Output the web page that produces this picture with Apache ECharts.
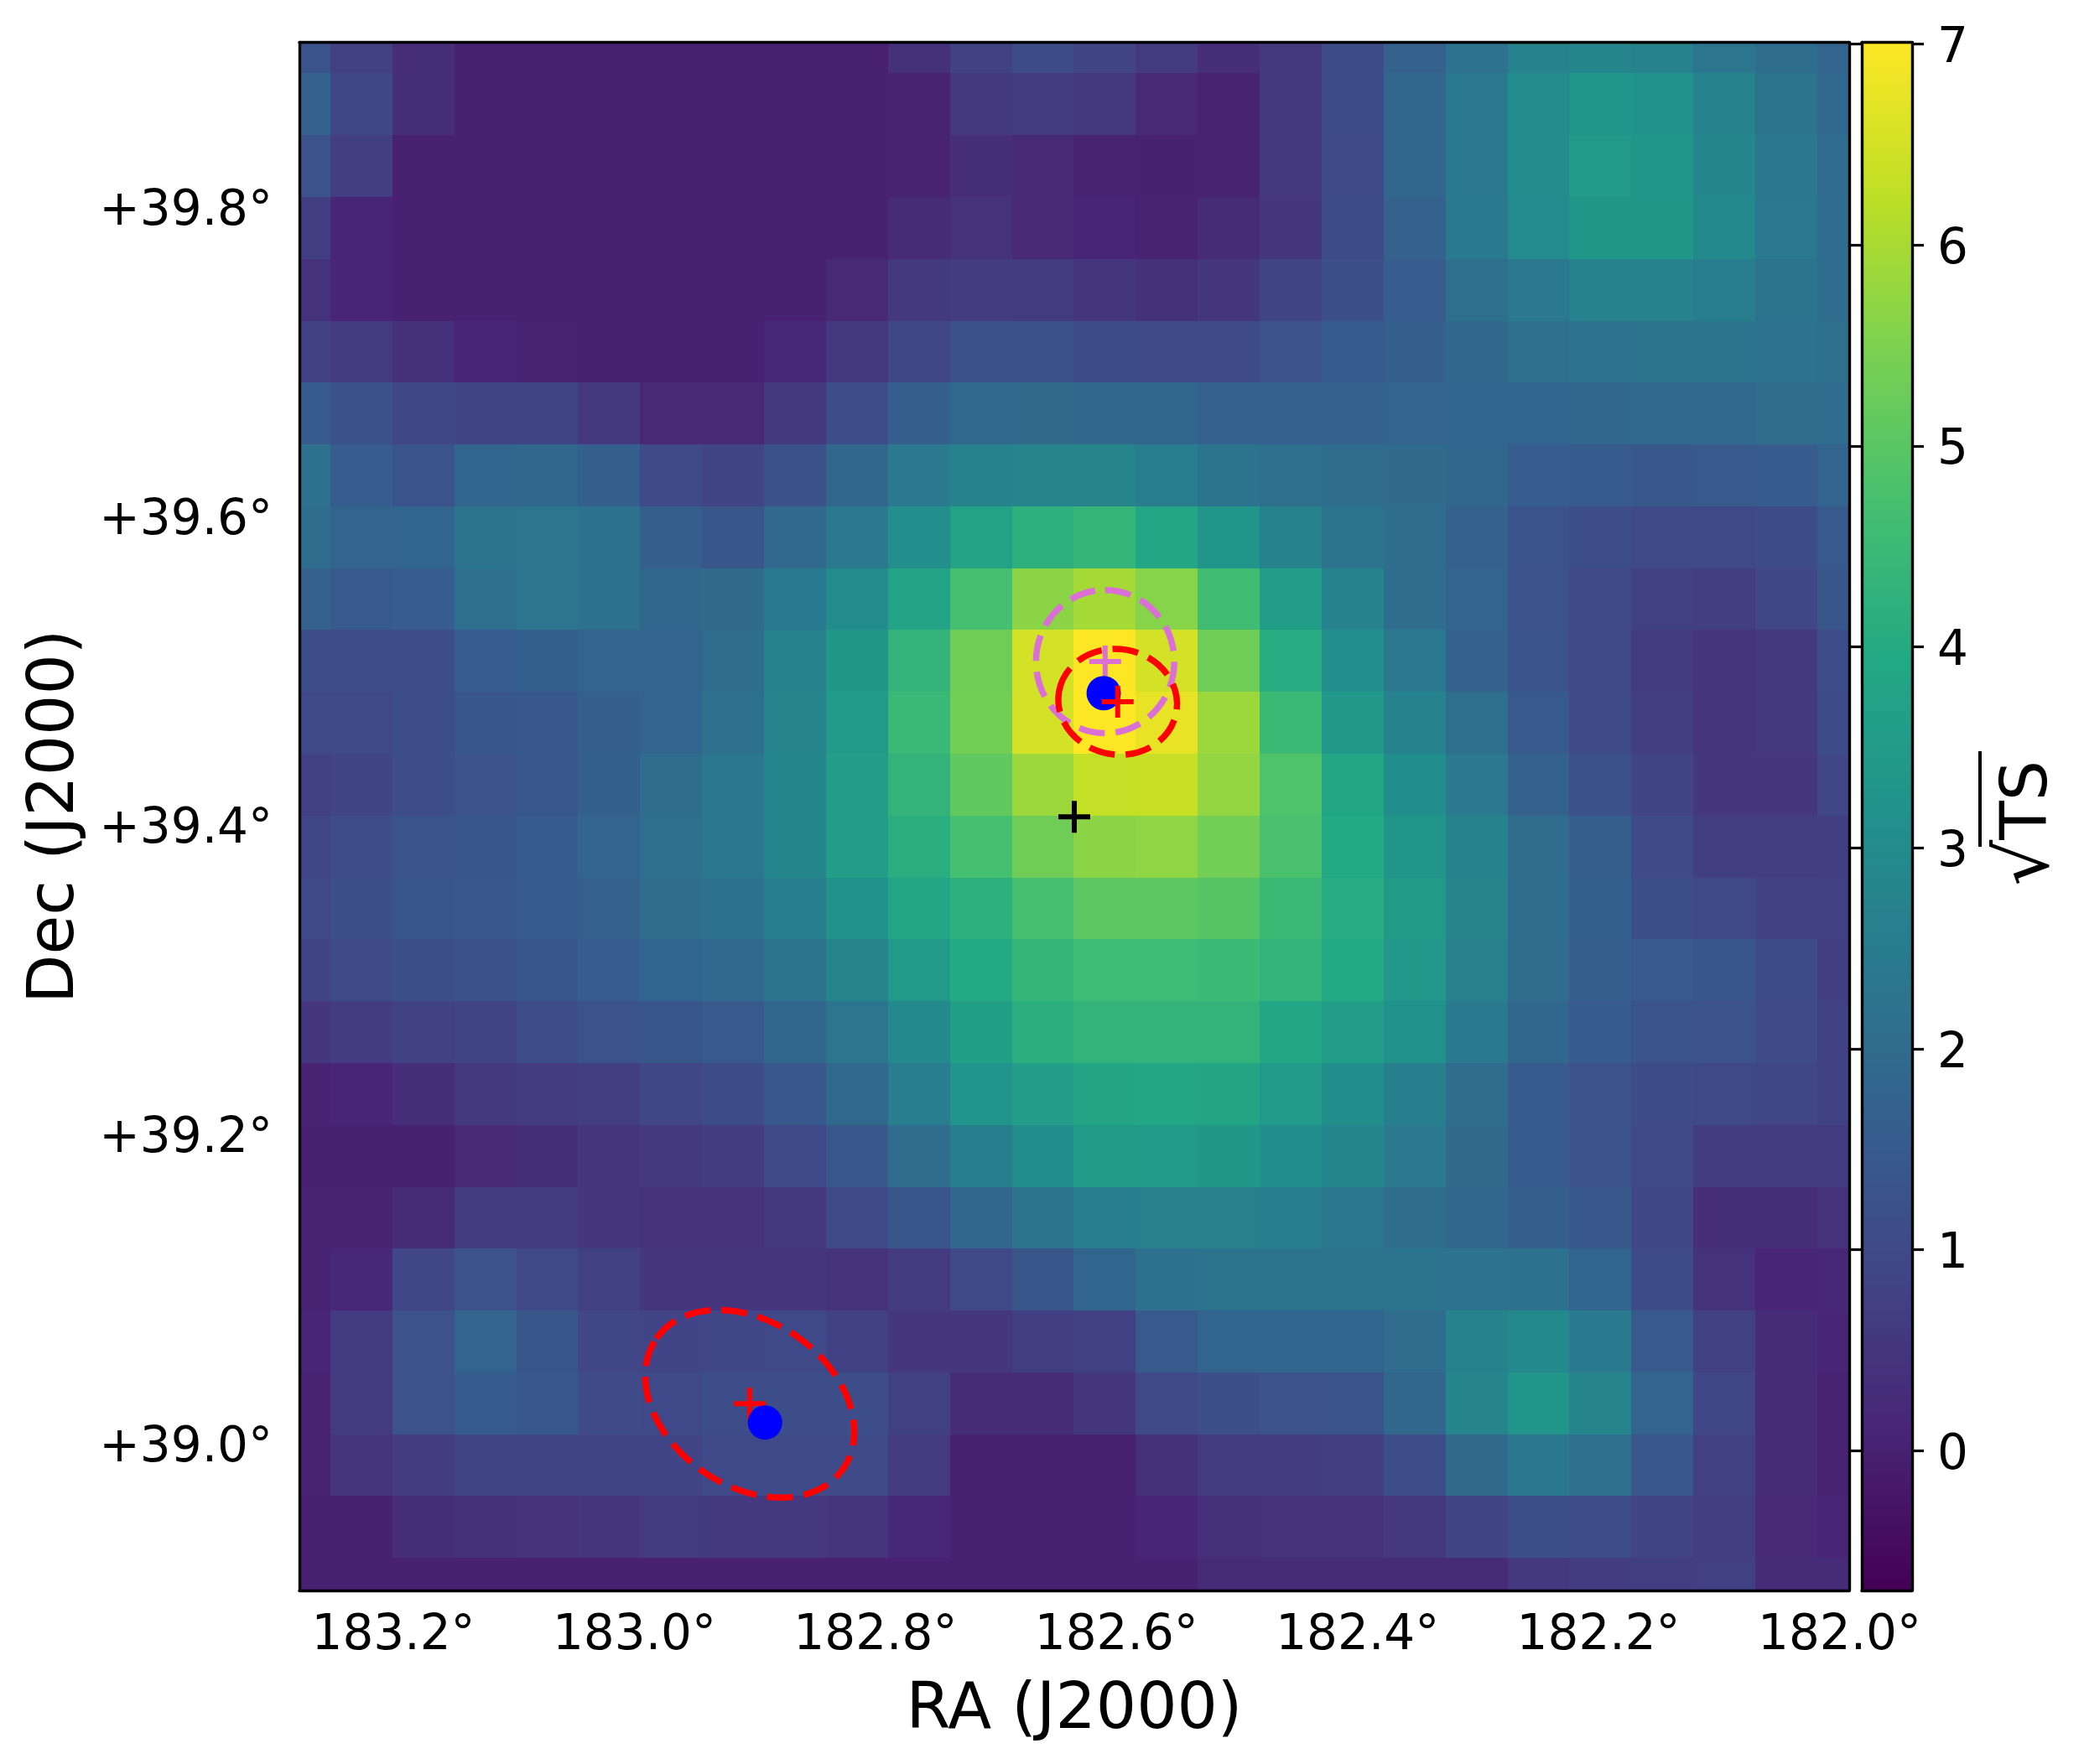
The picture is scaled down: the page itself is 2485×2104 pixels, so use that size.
<!DOCTYPE html>
<html>
<head>
<meta charset="utf-8">
<title>sqrt(TS) map</title>
<script src="https://cdn.jsdelivr.net/npm/echarts@6/dist/echarts.min.js"></script>
<style>
  html, body { margin: 0; padding: 0; background: #fff; }
  #chart { width: 2485px; height: 2104px; }
</style>
</head>
<body>
<div id="chart"></div>
<script>
// sqrt(TS) per map pixel, top row first, left column (high RA) first
const tsRow00 = [1.3, 0.75, 0.3, 0, 0, 0, 0, 0, 0, 0, 0.35, 0.8, 1.05, 0.85, 0.6, 0.3, 0.55, 1.05, 1.7, 2.2, 2.7, 2.8, 2.7, 2.3, 2.05, 1.75];
const tsRow01 = [1.7, 0.9, 0.3, 0, 0, 0, 0, 0, 0, 0, 0.05, 0.55, 0.6, 0.55, 0.2, 0.05, 0.55, 1.05, 1.85, 2.4, 3.0, 3.3, 3.2, 2.7, 2.25, 1.9];
const tsRow02 = [1.25, 0.7, 0, 0, 0, 0, 0, 0, 0, 0, 0.02, 0.3, 0.2, 0.02, 0, 0.05, 0.55, 1.0, 1.85, 2.4, 3.0, 3.45, 3.3, 2.8, 2.35, 2.0];
const tsRow03 = [0.7, 0.1, 0, 0, 0, 0, 0, 0, 0, 0, 0.25, 0.4, 0.2, 0.1, 0.05, 0.25, 0.5, 1.05, 1.7, 2.45, 2.95, 3.35, 3.35, 2.9, 2.4, 2.05];
const tsRow04 = [0.4, 0.1, 0, 0, 0, 0, 0, 0, 0, 0.2, 0.55, 0.65, 0.6, 0.5, 0.35, 0.5, 0.85, 1.15, 1.55, 2.1, 2.4, 2.7, 2.7, 2.55, 2.25, 2.05];
const tsRow05 = [0.8, 0.6, 0.35, 0.1, 0.05, 0, 0, 0, 0.15, 0.55, 0.9, 1.2, 1.2, 1.05, 1.0, 1.0, 1.25, 1.5, 1.6, 1.85, 2.1, 2.2, 2.25, 2.25, 2.2, 2.1];
const tsRow06 = [1.5, 1.2, 0.9, 0.85, 0.85, 0.55, 0.2, 0.2, 0.55, 1.1, 1.6, 1.9, 1.95, 1.85, 1.85, 1.7, 1.7, 1.7, 1.75, 1.8, 1.8, 1.85, 1.9, 1.9, 2.0, 2.05];
const tsRow07 = [2.15, 1.55, 1.3, 1.8, 1.85, 1.6, 1.0, 0.85, 1.2, 1.85, 2.4, 2.7, 2.75, 2.75, 2.55, 2.25, 2.1, 2.05, 1.95, 1.85, 1.55, 1.5, 1.4, 1.45, 1.5, 1.75];
const tsRow08 = [2.05, 1.75, 1.8, 2.25, 2.3, 2.15, 1.6, 1.35, 1.9, 2.4, 3.1, 3.75, 4.2, 4.35, 3.85, 3.3, 2.7, 2.25, 2.05, 1.7, 1.3, 1.1, 0.95, 0.95, 1.05, 1.45];
const tsRow09 = [1.7, 1.45, 1.55, 2.1, 2.3, 2.15, 1.85, 1.95, 2.45, 3.0, 3.75, 4.7, 5.65, 5.95, 5.6, 4.6, 3.55, 2.7, 2.05, 1.75, 1.25, 0.95, 0.75, 0.7, 0.9, 1.35];
const tsRow10 = [1.1, 1.1, 1.1, 1.55, 1.65, 1.75, 1.75, 2.05, 2.7, 3.35, 4.3, 5.3, 6.5, 7.0, 6.5, 5.3, 4.05, 3.1, 2.4, 1.7, 1.3, 0.95, 0.6, 0.45, 0.55, 1.1];
const tsRow11 = [0.95, 0.95, 1.1, 1.35, 1.4, 1.6, 1.75, 2.1, 2.75, 3.45, 4.45, 5.35, 6.5, 7.0, 6.75, 5.85, 4.5, 3.4, 2.7, 2.1, 1.45, 1.0, 0.7, 0.45, 0.55, 1.05];
const tsRow12 = [0.75, 0.85, 1.1, 1.25, 1.4, 1.65, 2.05, 2.35, 2.85, 3.55, 4.3, 5.1, 5.85, 6.3, 6.35, 5.75, 4.85, 3.85, 3.05, 2.4, 1.7, 1.2, 0.85, 0.5, 0.5, 0.9];
const tsRow13 = [0.9, 1.1, 1.3, 1.35, 1.5, 1.75, 2.1, 2.35, 2.85, 3.55, 4.1, 4.7, 5.3, 5.65, 5.7, 5.35, 4.75, 3.95, 3.3, 2.7, 2.0, 1.6, 1.0, 0.7, 0.7, 0.7];
const tsRow14 = [0.95, 1.15, 1.35, 1.4, 1.5, 1.7, 2.05, 2.15, 2.6, 3.2, 3.85, 4.2, 4.7, 5.05, 5.05, 4.95, 4.5, 4.05, 3.5, 2.75, 2.05, 1.65, 1.15, 0.95, 0.8, 0.75];
const tsRow15 = [0.85, 1.0, 1.15, 1.2, 1.35, 1.55, 1.8, 1.9, 2.25, 2.75, 3.45, 3.95, 4.35, 4.55, 4.55, 4.5, 4.3, 3.95, 3.4, 2.65, 2.0, 1.6, 1.45, 1.35, 1.05, 0.7];
const tsRow16 = [0.5, 0.65, 0.8, 0.85, 1.1, 1.25, 1.35, 1.45, 1.85, 2.3, 2.9, 3.65, 4.15, 4.3, 4.3, 4.3, 3.85, 3.55, 3.15, 2.45, 1.85, 1.5, 1.3, 1.25, 1.0, 0.8];
const tsRow17 = [0.05, 0.1, 0.3, 0.55, 0.65, 0.7, 0.9, 1.05, 1.4, 1.9, 2.55, 3.25, 3.55, 3.8, 3.85, 3.8, 3.45, 3.05, 2.6, 2.0, 1.5, 1.25, 1.05, 0.95, 0.9, 0.8];
const tsRow18 = [0, 0, 0, 0.2, 0.3, 0.45, 0.55, 0.65, 0.95, 1.4, 2.0, 2.6, 3.05, 3.5, 3.45, 3.35, 3.05, 2.8, 2.4, 1.95, 1.5, 1.25, 0.95, 0.65, 0.6, 0.6];
const tsRow19 = [0.02, 0.05, 0.25, 0.6, 0.6, 0.5, 0.4, 0.4, 0.55, 0.95, 1.35, 1.85, 2.25, 2.55, 2.65, 2.65, 2.6, 2.35, 2.05, 1.85, 1.6, 1.4, 0.9, 0.3, 0.3, 0.4];
const tsRow20 = [0.05, 0.15, 0.9, 1.25, 0.95, 0.75, 0.5, 0.45, 0.45, 0.4, 0.6, 0.95, 1.35, 1.8, 2.15, 2.25, 2.25, 2.25, 2.25, 2.2, 2.15, 1.8, 1.05, 0.4, 0.1, 0.15];
const tsRow21 = [0.1, 0.6, 1.25, 1.75, 1.35, 0.9, 0.85, 0.9, 0.95, 0.75, 0.5, 0.5, 0.7, 0.75, 1.45, 1.8, 1.8, 1.8, 2.0, 2.7, 2.9, 2.45, 1.45, 0.75, 0.25, 0.1];
const tsRow22 = [0.05, 0.6, 1.25, 1.5, 1.4, 1.0, 0.95, 1.1, 1.1, 1.1, 0.75, 0.25, 0.25, 0.5, 0.95, 1.15, 1.25, 1.3, 1.85, 2.75, 3.3, 2.75, 1.75, 0.9, 0.25, 0.05];
const tsRow23 = [0.05, 0.45, 0.65, 0.85, 0.85, 0.85, 0.85, 0.95, 1.0, 1.0, 0.6, 0, 0, 0, 0.35, 0.6, 0.65, 0.7, 1.1, 1.95, 2.35, 2.1, 1.4, 0.75, 0.25, 0.05];
const tsRow24 = [0, 0, 0.3, 0.35, 0.4, 0.45, 0.6, 0.55, 0.55, 0.45, 0.15, 0, 0, 0, 0.1, 0.35, 0.4, 0.4, 0.55, 0.85, 1.15, 1.1, 0.85, 0.7, 0.2, 0.1];
const tsRow25 = [0, 0, 0, 0, 0, 0, 0, 0, 0, 0, 0, 0, 0, 0, 0, 0.25, 0.25, 0.25, 0.25, 0.25, 0.55, 0.65, 0.7, 0.75, 0.25, 0.25];
const tsRows = [tsRow00, tsRow01, tsRow02, tsRow03, tsRow04, tsRow05, tsRow06, tsRow07, tsRow08, tsRow09, tsRow10, tsRow11, tsRow12,
                tsRow13, tsRow14, tsRow15, tsRow16, tsRow17, tsRow18, tsRow19, tsRow20, tsRow21, tsRow22, tsRow23, tsRow24, tsRow25];

// map frame and pixel size, degrees
const raLeft = 183.278, raRight = 181.992, raStep = 0.05141;
const decTop = 39.906, decBottom = 38.905, decStep = 0.04;
const tsMin = -0.695, tsMax = 7.008;

// tick labels
const raTicks = [183.2, 183.0, 182.8, 182.6, 182.4, 182.2, 182.0];
const decTicks = [39.0, 39.2, 39.4, 39.6, 39.8];
const tsTicks = [0, 1, 2, 3, 4, 5, 6, 7];

// sources [ra, dec]
const blueDots = [[182.6106, 39.4852], [182.8916, 39.0136]];
const redCrossLow = [[182.9043, 39.0257]];
const redCrossHigh = [[182.599, 39.4796]];
const violetCross = [[182.6094, 39.5056]];
const blackCross = [[182.635, 39.4052]];

// error ellipses [ra, dec, semi major deg, semi minor deg, tilt deg]
const redEllipses = [[182.599, 39.4796, 0.0385, 0.0341, 10], [182.9043, 39.0257, 0.0736, 0.0532, 35]];
const violetEllipses = [[182.6094, 39.5056, 0.0463, 0.0447, 90]];

const viridis = ['#440154', '#482475', '#414487', '#355f8d', '#2a788e', '#21918c', '#22a884', '#44bf70', '#7ad151', '#bddf26', '#fde725'];
const fontName = '"DejaVu Sans"';
const crossPath = 'path://M16,0H22V16H38V22H22V38H16V22H0V16H16Z';

const cells = [];
tsRows.forEach((row, r) => {
    row.forEach((v, c) => cells.push([raLeft - c * raStep, decTop - r * decStep, v]));
});

const renderCell = (params, api) => {
    const ra = api.value(0), dec = api.value(1);
    const p0 = api.coord([ra + raStep / 2, dec + decStep / 2]);
    const p1 = api.coord([ra - raStep / 2, dec - decStep / 2]);
    const x0 = Math.round(p0[0]), y0 = Math.round(p0[1]);
    return {
        type: 'rect',
        shape: { x: x0, y: y0, width: Math.round(p1[0]) - x0, height: Math.round(p1[1]) - y0 },
        style: { fill: api.visual('color') }
    };
};

const renderEllipse = (color) => (params, api) => {
    const p = api.coord([api.value(0), api.value(1)]);
    const scale = Math.abs(api.size([0, 1])[1]);
    return {
        type: 'ellipse',
        x: p[0],
        y: p[1],
        rotation: -api.value(4) * Math.PI / 180,
        shape: { cx: 0, cy: 0, rx: api.value(2) * scale, ry: api.value(3) * scale },
        style: { fill: 'none', stroke: color, lineWidth: 7.5, lineDash: [31, 13] }
    };
};

const renderColorbar = (params, api) => {
    const p0 = api.coord([0, tsMax]);
    const p1 = api.coord([1, tsMin]);
    const stops = viridis.map((color, i) => ({ offset: i / (viridis.length - 1), color }));
    return {
        type: 'rect',
        shape: { x: p0[0], y: p0[1], width: p1[0] - p0[0], height: p1[1] - p0[1] },
        style: { fill: new echarts.graphic.LinearGradient(0, 1, 0, 0, stops) }
    };
};

const mapAxis = (extra) => Object.assign({
    type: 'value',
    gridIndex: 0,
    z: 10,
    axisLine: { show: true, onZero: false, lineStyle: { color: '#000', width: 3.4 } },
    axisTick: { show: false },
    axisLabel: { show: false },
    splitLine: { show: false }
}, extra);

const barAxis = (extra) => Object.assign({
    type: 'value',
    gridIndex: 1,
    z: 10,
    axisLine: { show: true, onZero: false, lineStyle: { color: '#000', width: 3.4 } },
    axisTick: { show: false },
    axisLabel: { show: false },
    splitLine: { show: false }
}, extra);

const labelStyle = { show: true, color: '#000', fontFamily: fontName, fontSize: 58 };
const nameStyle = { color: '#000', fontFamily: fontName, fontSize: 76 };
// pushes the tick text down a little, the library centres it a bit too high
const shiftedLabel = { v: { fontFamily: fontName, fontSize: 58, color: '#000', padding: [13, 0, 0, 0] } };
const raAxis = { min: raRight, max: raLeft, inverse: true };
const decAxis = { min: decBottom, max: decTop };
const tsAxis = { min: tsMin, max: tsMax };

const chart = echarts.init(document.getElementById('chart'));
chart.setOption({
    animation: false,
    backgroundColor: '#fff',
    grid: [
        { left: 357, top: 50.5, width: 1848, height: 1846.5 },
        { left: 2220, top: 50.5, width: 60, height: 1846.5 }
    ],
    visualMap: { show: false, seriesIndex: 0, dimension: 2, min: -0.7, max: 7, inRange: { color: viridis } },
    xAxis: [
        mapAxis(Object.assign({
            position: 'bottom',
            name: 'RA (J2000)', nameLocation: 'middle', nameGap: 106, nameTextStyle: nameStyle,
            axisLabel: Object.assign({}, labelStyle, {
                margin: 26, customValues: raTicks, hideOverlap: false,
                formatter: (v) => v.toFixed(1) + '°'
            })
        }, raAxis)),
        mapAxis(Object.assign({ position: 'top' }, raAxis)),
        barAxis({ position: 'bottom', min: 0, max: 1 }),
        barAxis({ position: 'top', min: 0, max: 1 })
    ],
    yAxis: [
        mapAxis(Object.assign({
            position: 'left',
            name: 'Dec (J2000)', nameLocation: 'middle', nameGap: 252, nameTextStyle: nameStyle,
            axisLabel: Object.assign({}, labelStyle, {
                margin: 32, rich: shiftedLabel, customValues: decTicks, hideOverlap: false,
                formatter: (v) => '{v|+' + v.toFixed(1) + '°}'
            })
        }, decAxis)),
        mapAxis(Object.assign({ position: 'right' }, decAxis)),
        barAxis(Object.assign({
            position: 'right',
            name: '{r|√}{t|TS}', nameLocation: 'middle', nameGap: 97, nameRotate: 90,
            nameTextStyle: Object.assign({}, nameStyle, {
                padding: [0, 16, 0, 0],
                rich: {
                    r: { fontFamily: fontName, fontSize: 86, color: '#000' },
                    t: { fontFamily: fontName, fontSize: 76, color: '#000' }
                }
            }),
            axisTick: { show: true, length: 14, customValues: tsTicks, lineStyle: { color: '#000', width: 3.2 } },
            axisLabel: Object.assign({}, labelStyle, {
                margin: 30, rich: shiftedLabel, customValues: tsTicks, hideOverlap: false,
                formatter: (v) => '{v|' + v + '}'
            })
        }, tsAxis)),
        barAxis(Object.assign({
            position: 'left',
            axisTick: { show: true, length: 14, customValues: tsTicks, lineStyle: { color: '#000', width: 3.2 } }
        }, tsAxis))
    ],
    series: [
        { type: 'custom', renderItem: renderCell, data: cells, clip: true, encode: { x: 0, y: 1 }, silent: true },
        { type: 'scatter', data: redCrossLow, symbol: crossPath, symbolSize: 38, itemStyle: { color: '#f00', opacity: 1 }, silent: true },
        { type: 'custom', renderItem: renderEllipse('#da70d6'), data: violetEllipses, encode: { x: 0, y: 1 }, silent: true },
        { type: 'scatter', data: violetCross, symbol: crossPath, symbolSize: 38, itemStyle: { color: '#da70d6', opacity: 1 }, silent: true },
        { type: 'scatter', data: blueDots, symbol: 'circle', symbolSize: 41, itemStyle: { color: '#00f', opacity: 1 }, silent: true },
        { type: 'scatter', data: redCrossHigh, symbol: crossPath, symbolSize: 38, itemStyle: { color: '#f00', opacity: 1 }, silent: true },
        { type: 'custom', renderItem: renderEllipse('#f00'), data: redEllipses, encode: { x: 0, y: 1 }, silent: true },
        { type: 'scatter', data: blackCross, symbol: crossPath, symbolSize: 38, itemStyle: { color: '#000', opacity: 1 }, silent: true },
        { type: 'custom', renderItem: renderColorbar, data: [[0, tsMin]], xAxisIndex: 2, yAxisIndex: 2, silent: true }
    ],
    graphic: [
        // vinculum of the square root
        { type: 'line', shape: { x1: 2361, y1: 896, x2: 2361, y2: 1010 }, style: { stroke: '#000', lineWidth: 4 }, silent: true }
    ]
});
</script>
</body>
</html>
